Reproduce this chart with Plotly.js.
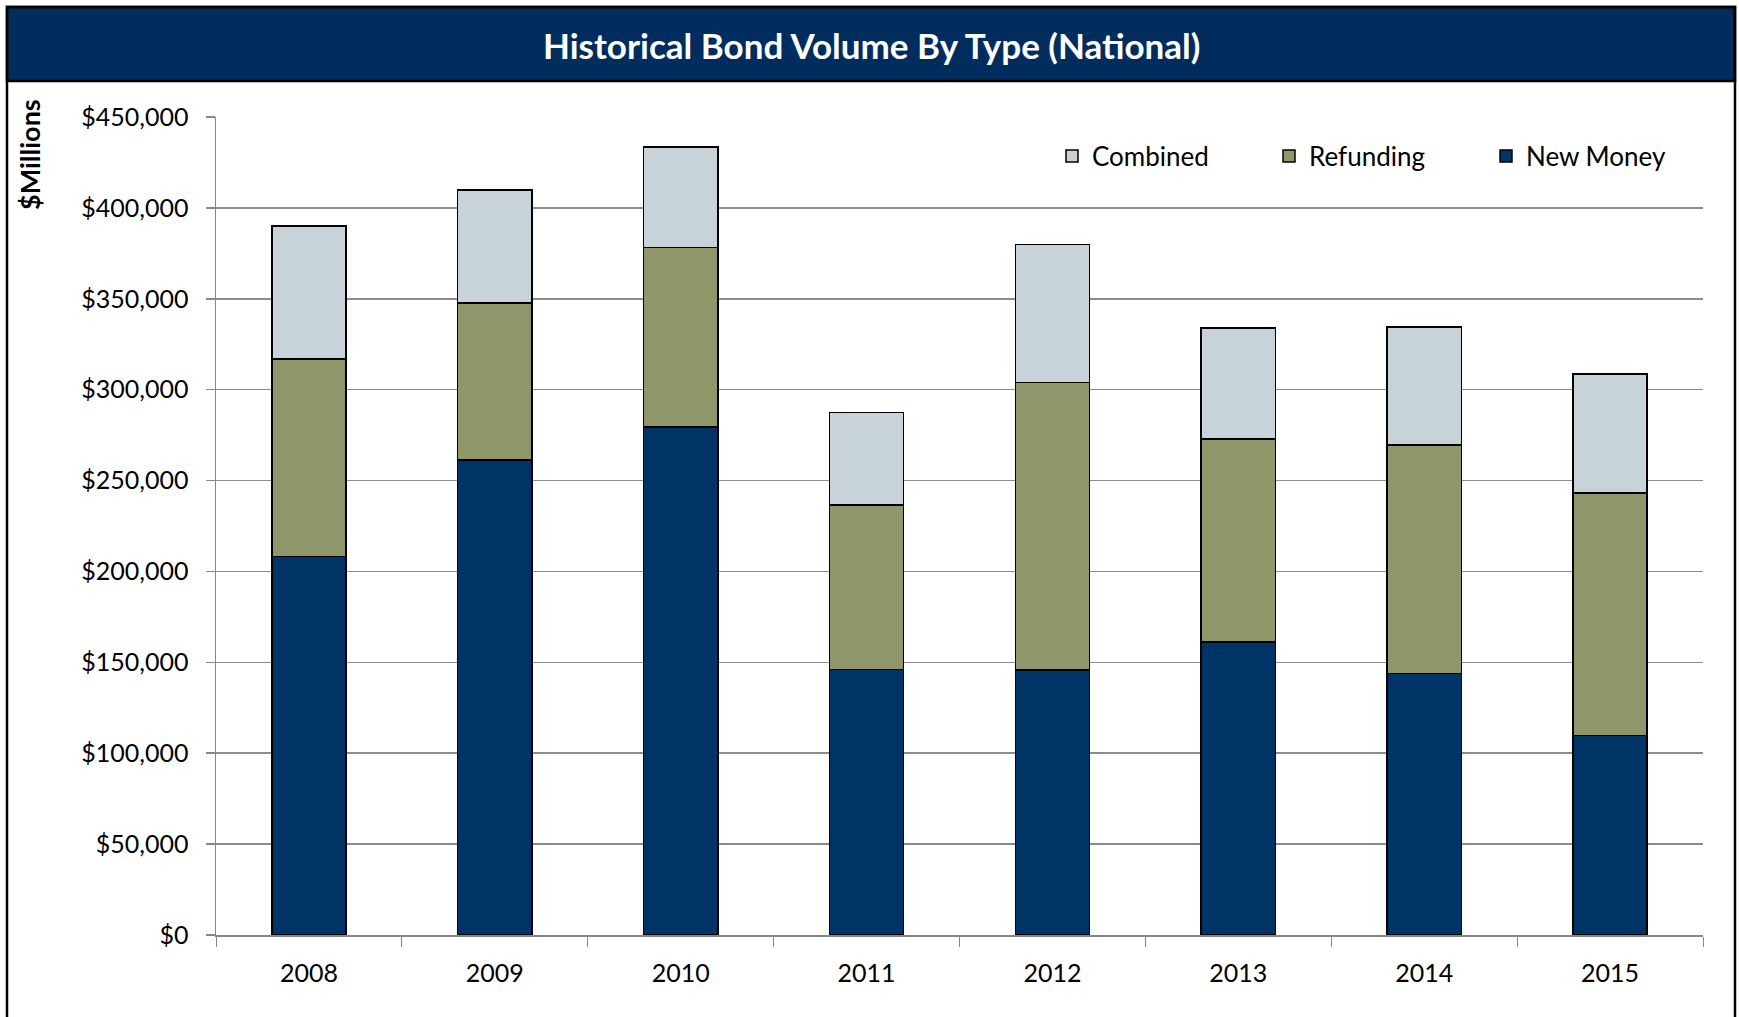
<!DOCTYPE html>
<html>
<head>
<meta charset="utf-8">
<script src="https://cdn.plot.ly/plotly-3.0.1.min.js"></script>
<style>html,body{margin:0;padding:0;background:#fff;overflow:hidden;width:1739px;height:1017px;}#chart{width:1739px;height:1017px;}</style>
</head>
<body>
<div id="chart"></div>
<script>
// ---- data (US $ millions) ----
const years = ['2008','2009','2010','2011','2012','2013','2014','2015'];
const newMoney  = [208100, 261300, 279600, 146100, 145800, 161300, 143900, 109800];
const refunding = [108700,  86500,  98600,  90400, 158200, 111700, 125800, 133300];
const combined  = [ 73200,  62000,  55400,  51000,  75900,  61000,  64700,  65500];
const seriesNames = ['New Money', 'Refunding', 'Combined'];
const chartTitle = 'Historical Bond Volume By Type (National)';
const yTitle = '$Millions';

// ---- layout geometry ----
const W = 1739, H = 1017;
const L = 216, R = 36, T = 117, B = 82;
const PW = W - L - R, PH = H - T - B;
const px = x => (x - L) / PW;
const py = y => (H - B - y) / PH;

const FONT = 'Lato, "Open Sans", sans-serif';
const colors = ['#003366', '#8F966A', '#C7D3D9'];
const vals = [newMoney, refunding, combined];

const traces = seriesNames.map((n, i) => ({
  type: 'bar', name: n, x: years, y: vals[i],
  marker: {color: colors[i], line: {color: '#000', width: 1.5}},
  hoverinfo: 'x+y+name'
}));

const layout = {
  width: W, height: H, autosize: false,
  margin: {l: L, r: R, t: T, b: B, pad: 0, autoexpand: false},
  paper_bgcolor: '#fff', plot_bgcolor: '#fff',
  barmode: 'stack', bargap: 0.6,
  font: {family: FONT, color: '#000'},
  showlegend: true,
  legend: {
    orientation: 'h', traceorder: 'reversed',
    x: px(1052), y: py(156), xanchor: 'left', yanchor: 'middle',
    font: {family: FONT, size: 26, color: '#000'},
    bgcolor: 'rgba(0,0,0,0)', entrywidth: 172, itemwidth: 30
  },
  xaxis: {
    type: 'category', tickson: 'boundaries', ticks: 'outside', ticklen: 10, tickwidth: 1,
    tickcolor: '#888', showline: true, linecolor: '#888', linewidth: 1.5,
    showgrid: false, tickfont: {family: FONT, size: 25, color: '#000'},
    ticklabelstandoff: 15, fixedrange: true
  },
  yaxis: {
    range: [0, 450000], dtick: 50000, tickprefix: '$', tickformat: ',d',
    showgrid: true, gridcolor: '#8c8c8c', gridwidth: 1.5,
    showline: true, linecolor: '#888', linewidth: 1.5,
    ticks: 'outside', ticklen: 9, tickcolor: '#888', tickwidth: 1.5,
    tickfont: {family: FONT, size: 25, color: '#000'},
    ticklabelstandoff: 12, zeroline: false, fixedrange: true
  },
  shapes: [
    {type: 'rect', xref: 'paper', yref: 'paper', x0: px(7), x1: px(1735), y0: py(7), y1: py(1030),
     line: {color: '#000', width: 2.5}, fillcolor: 'rgba(0,0,0,0)', layer: 'above'},
    {type: 'rect', xref: 'paper', yref: 'paper', x0: px(7), x1: px(1735), y0: py(7), y1: py(81),
     line: {color: '#000', width: 2.5}, fillcolor: '#002D5E', layer: 'below'}
  ],
  annotations: [
    {text: '<b>' + chartTitle + '</b>', xref: 'paper', yref: 'paper', x: px(871), y: py(45),
     xanchor: 'center', yanchor: 'middle', showarrow: false,
     font: {family: FONT, size: 35, color: '#fff'}},
    {text: '<b>' + yTitle + '</b>', xref: 'paper', yref: 'paper', x: px(29), y: py(154),
     xanchor: 'center', yanchor: 'middle', textangle: -90, showarrow: false,
     font: {family: FONT, size: 27, color: '#000'}}
  ]
};

Plotly.newPlot('chart', traces, layout, {displayModeBar: false, staticPlot: true});
</script>
</body>
</html>
